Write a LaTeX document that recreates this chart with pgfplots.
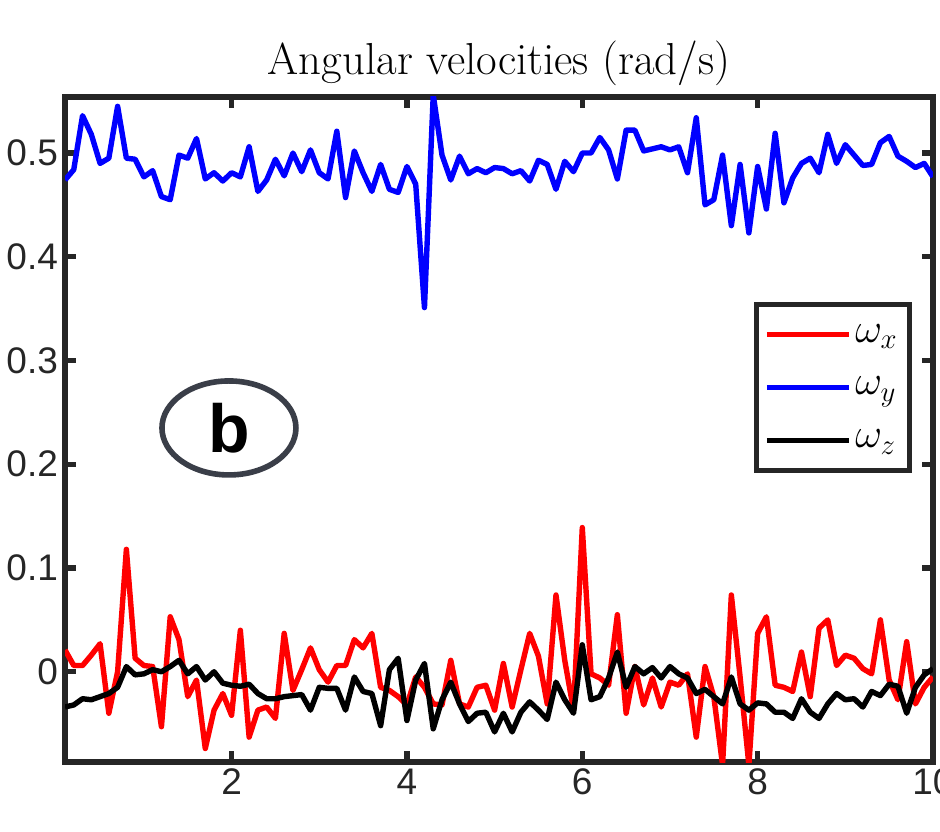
\documentclass[border=0pt]{standalone}
\usepackage{fontspec}
\usepackage{pgfplots}
\usepackage{pgfplotstable}
\pgfplotsset{compat=1.18}
\usetikzlibrary{shapes.geometric}
\newfontfamily\arial{Liberation Sans}
\definecolor{axgray}{RGB}{38,38,38}
\definecolor{ringgray}{RGB}{58,62,72}

% columns: time, omega_x, omega_y, omega_z
\pgfplotstableread{
t wx wy wz
0.1 0.021 0.474 -0.034
0.2 0.006 0.484 -0.032
0.3 0.006 0.536 -0.026
0.4 0.016 0.518 -0.027
0.5 0.027 0.490 -0.024
0.6 -0.040 0.495 -0.021
0.7 0.000 0.545 -0.015
0.8 0.118 0.495 0.005
0.9 0.013 0.494 -0.003
1.0 0.006 0.477 -0.002
1.1 0.005 0.483 0.002
1.2 -0.053 0.458 0.000
1.3 0.053 0.455 0.005
1.4 0.031 0.498 0.011
1.5 -0.024 0.495 -0.002
1.6 -0.008 0.514 0.005
1.7 -0.074 0.475 -0.008
1.8 -0.037 0.481 0.000
1.9 -0.021 0.473 -0.011
2.0 -0.042 0.481 -0.013
2.1 0.040 0.477 -0.014
2.2 -0.063 0.506 -0.012
2.3 -0.037 0.463 -0.021
2.4 -0.034 0.474 -0.026
2.5 -0.045 0.494 -0.026
2.6 0.037 0.478 -0.024
2.7 -0.018 0.500 -0.023
2.8 0.002 0.482 -0.022
2.9 0.023 0.503 -0.037
3.0 0.002 0.481 -0.015
3.1 -0.010 0.475 -0.016
3.2 0.006 0.521 -0.016
3.3 0.006 0.457 -0.037
3.4 0.031 0.502 -0.005
3.5 0.023 0.481 -0.019
3.6 0.037 0.463 -0.021
3.7 -0.015 0.489 -0.052
3.8 -0.018 0.465 0.002
3.9 -0.024 0.462 0.013
4.0 -0.032 0.487 -0.047
4.1 -0.005 0.470 -0.008
4.2 -0.015 0.351 0.008
4.3 -0.031 0.556 -0.055
4.4 -0.032 0.498 -0.027
4.5 0.011 0.474 -0.010
4.6 -0.031 0.497 -0.031
4.7 -0.034 0.480 -0.048
4.8 -0.015 0.485 -0.040
4.9 -0.013 0.481 -0.039
5.0 -0.037 0.486 -0.058
5.1 0.008 0.485 -0.040
5.2 -0.034 0.480 -0.058
5.3 0.002 0.483 -0.039
5.4 0.037 0.473 -0.029
5.5 0.015 0.493 -0.037
5.6 -0.031 0.489 -0.046
5.7 0.074 0.465 -0.010
5.8 0.011 0.492 -0.027
5.9 -0.037 0.482 -0.040
6.0 0.139 0.500 0.026
6.1 -0.002 0.500 -0.027
6.2 -0.006 0.515 -0.024
6.3 -0.013 0.503 -0.006
6.4 0.055 0.475 0.019
6.5 -0.040 0.522 -0.015
6.6 0.005 0.522 0.005
6.7 -0.032 0.502 -0.002
6.8 -0.006 0.504 0.004
6.9 -0.034 0.506 -0.006
7.0 -0.010 0.503 0.005
7.1 -0.013 0.506 -0.002
7.2 -0.002 0.481 -0.006
7.3 -0.063 0.534 -0.021
7.4 0.005 0.450 -0.017
7.5 -0.024 0.455 -0.024
7.6 -0.090 0.498 -0.031
7.7 0.074 0.430 -0.005
7.8 -0.005 0.489 -0.031
7.9 -0.090 0.423 -0.037
8.0 0.037 0.487 -0.030
8.1 0.053 0.446 -0.031
8.2 -0.013 0.519 -0.039
8.3 -0.015 0.452 -0.039
8.4 -0.019 0.476 -0.045
8.5 0.019 0.490 -0.026
8.6 -0.024 0.495 -0.039
8.7 0.042 0.481 -0.045
8.8 0.050 0.518 -0.031
8.9 0.006 0.490 -0.021
9.0 0.016 0.508 -0.027
9.1 0.013 0.498 -0.026
9.2 0.003 0.488 -0.034
9.3 -0.002 0.489 -0.019
9.4 0.050 0.510 -0.023
9.5 -0.008 0.516 -0.012
9.6 -0.027 0.497 -0.014
9.7 0.029 0.492 -0.040
9.8 -0.031 0.486 -0.015
9.9 -0.015 0.490 -0.003
10.0 -0.005 0.477 0.003
}\angvel

\begin{document}
\begin{tikzpicture}
\begin{axis}[
  at={(32.5pt,34.5pt)}, anchor=south west,
  scale only axis, width=434pt, height=332.5pt,
  xmin=0.1, xmax=10, ymin=-0.087, ymax=0.554,
  xtick={2,4,6,8,10}, ytick={0,0.1,0.2,0.3,0.4,0.5},
  axis line style={axgray, line width=2.6pt},
  major tick length=5.5pt,
  tick style={axgray, line width=2.6pt},
  ticklabel style={font=\arial\fontsize{18.5}{20}\selectfont, text=axgray},
  /pgf/number format/assume math mode=true,
  title={Angular velocities (rad/s)},
  title style={font=\fontsize{22.4}{25}\selectfont, at={(0.5,1)}, anchor=base, yshift=5pt},
  every axis plot/.append style={line width=2.7pt, line join=round},
  legend style={at={(0.976,0.692)}, anchor=north east, draw=axgray, line width=2.4pt,
    fill=white, font=\fontsize{20}{22}\selectfont, inner xsep=4pt, inner ysep=8pt,
    row sep=12pt},
  legend cell align=left,
  legend image code/.code={\draw[#1, line width=2.6pt] (0pt,0pt) -- (41pt,0pt);},
]
\addplot[red] table[x=t, y=wx] {\angvel};
\addlegendentry{$\omega_x$}
\addplot[blue] table[x=t, y=wy] {\angvel};
\addlegendentry{$\omega_y$}
\addplot[black] table[x=t, y=wz] {\angvel};
\addlegendentry{$\omega_z$}
\node[ellipse, draw=ringgray, line width=2.8pt, minimum width=67pt, minimum height=47pt,
  inner sep=0pt, font=\arial\bfseries\fontsize{34}{36}\selectfont] at (axis cs:1.97,0.235) {b};
\end{axis}
\pgfresetboundingbox
\path[use as bounding box] (0,0) rectangle (470pt,415.5pt);
\end{tikzpicture}
\end{document}
